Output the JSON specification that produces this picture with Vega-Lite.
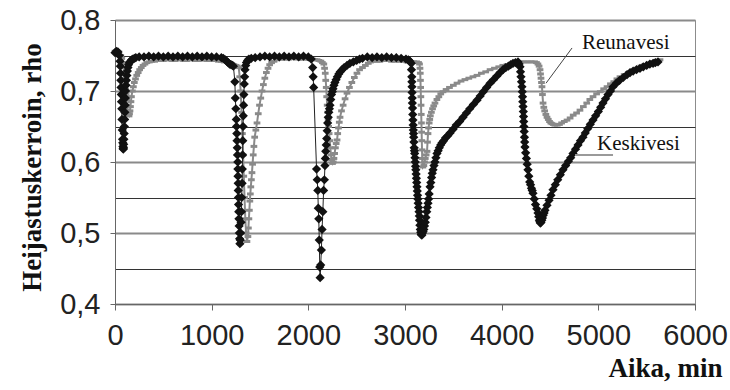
{
  "$schema": "https://vega.github.io/schema/vega-lite/v6.json",
  "width": 580,
  "height": 284,
  "autosize": {"type": "none"},
  "padding": {"left": 115, "top": 20, "right": 35, "bottom": 86},
  "background": "white",
  "config": {"view": {"stroke": "#8c8c8c", "strokeWidth": 1}, "font": "Liberation Sans"},
  "datasets": {
    "reunavesi": [
      {"t": 0, "rho": 0.756}, {"t": 20, "rho": 0.757}, {"t": 40, "rho": 0.755}, {"t": 60, "rho": 0.75}, {"t": 70, "rho": 0.746},
      {"t": 80, "rho": 0.74}, {"t": 88, "rho": 0.733}, {"t": 95, "rho": 0.725}, {"t": 100, "rho": 0.718}, {"t": 105, "rho": 0.71},
      {"t": 110, "rho": 0.702}, {"t": 115, "rho": 0.695}, {"t": 120, "rho": 0.688}, {"t": 125, "rho": 0.68}, {"t": 130, "rho": 0.673},
      {"t": 135, "rho": 0.668}, {"t": 140, "rho": 0.666}, {"t": 145, "rho": 0.665}, {"t": 150, "rho": 0.668}, {"t": 155, "rho": 0.672},
      {"t": 160, "rho": 0.678}, {"t": 165, "rho": 0.685}, {"t": 170, "rho": 0.692}, {"t": 180, "rho": 0.7}, {"t": 190, "rho": 0.706},
      {"t": 200, "rho": 0.712}, {"t": 212, "rho": 0.717}, {"t": 225, "rho": 0.722}, {"t": 240, "rho": 0.726}, {"t": 255, "rho": 0.73},
      {"t": 272, "rho": 0.733}, {"t": 290, "rho": 0.736}, {"t": 310, "rho": 0.738}, {"t": 330, "rho": 0.74}, {"t": 355, "rho": 0.741},
      {"t": 380, "rho": 0.742}, {"t": 410, "rho": 0.742}, {"t": 440, "rho": 0.743}, {"t": 470, "rho": 0.743}, {"t": 500, "rho": 0.743},
      {"t": 530, "rho": 0.744}, {"t": 560, "rho": 0.744}, {"t": 590, "rho": 0.743}, {"t": 620, "rho": 0.743}, {"t": 650, "rho": 0.744},
      {"t": 680, "rho": 0.744}, {"t": 710, "rho": 0.743}, {"t": 740, "rho": 0.743}, {"t": 770, "rho": 0.744}, {"t": 800, "rho": 0.744},
      {"t": 830, "rho": 0.743}, {"t": 860, "rho": 0.743}, {"t": 890, "rho": 0.744}, {"t": 920, "rho": 0.744}, {"t": 950, "rho": 0.743},
      {"t": 980, "rho": 0.743}, {"t": 1010, "rho": 0.743}, {"t": 1040, "rho": 0.743}, {"t": 1070, "rho": 0.742}, {"t": 1100, "rho": 0.742},
      {"t": 1130, "rho": 0.741}, {"t": 1160, "rho": 0.74}, {"t": 1185, "rho": 0.739}, {"t": 1210, "rho": 0.738}, {"t": 1230, "rho": 0.737},
      {"t": 1250, "rho": 0.736}, {"t": 1265, "rho": 0.735}, {"t": 1280, "rho": 0.733}, {"t": 1290, "rho": 0.72}, {"t": 1300, "rho": 0.7},
      {"t": 1310, "rho": 0.67}, {"t": 1318, "rho": 0.64}, {"t": 1325, "rho": 0.61}, {"t": 1332, "rho": 0.58}, {"t": 1340, "rho": 0.55},
      {"t": 1348, "rho": 0.52}, {"t": 1356, "rho": 0.5}, {"t": 1365, "rho": 0.488}, {"t": 1375, "rho": 0.495}, {"t": 1380, "rho": 0.507},
      {"t": 1385, "rho": 0.52}, {"t": 1390, "rho": 0.532}, {"t": 1395, "rho": 0.545}, {"t": 1400, "rho": 0.555}, {"t": 1405, "rho": 0.565},
      {"t": 1411, "rho": 0.575}, {"t": 1417, "rho": 0.585}, {"t": 1423, "rho": 0.597}, {"t": 1430, "rho": 0.61}, {"t": 1437, "rho": 0.622},
      {"t": 1445, "rho": 0.635}, {"t": 1457, "rho": 0.645}, {"t": 1469, "rho": 0.655}, {"t": 1482, "rho": 0.668}, {"t": 1495, "rho": 0.68},
      {"t": 1508, "rho": 0.69}, {"t": 1521, "rho": 0.7}, {"t": 1535, "rho": 0.709}, {"t": 1550, "rho": 0.718}, {"t": 1566, "rho": 0.726},
      {"t": 1583, "rho": 0.732}, {"t": 1600, "rho": 0.737}, {"t": 1620, "rho": 0.74}, {"t": 1645, "rho": 0.742}, {"t": 1670, "rho": 0.744},
      {"t": 1700, "rho": 0.745}, {"t": 1730, "rho": 0.745}, {"t": 1765, "rho": 0.745}, {"t": 1800, "rho": 0.745}, {"t": 1830, "rho": 0.746},
      {"t": 1860, "rho": 0.746}, {"t": 1890, "rho": 0.745}, {"t": 1920, "rho": 0.745}, {"t": 1950, "rho": 0.745}, {"t": 1980, "rho": 0.745},
      {"t": 2010, "rho": 0.745}, {"t": 2040, "rho": 0.745}, {"t": 2065, "rho": 0.744}, {"t": 2090, "rho": 0.744}, {"t": 2110, "rho": 0.743},
      {"t": 2130, "rho": 0.742}, {"t": 2145, "rho": 0.74}, {"t": 2160, "rho": 0.738}, {"t": 2168, "rho": 0.732}, {"t": 2175, "rho": 0.725},
      {"t": 2180, "rho": 0.715}, {"t": 2185, "rho": 0.705}, {"t": 2190, "rho": 0.692}, {"t": 2195, "rho": 0.68}, {"t": 2200, "rho": 0.67},
      {"t": 2205, "rho": 0.66}, {"t": 2210, "rho": 0.65}, {"t": 2215, "rho": 0.64}, {"t": 2222, "rho": 0.63}, {"t": 2228, "rho": 0.62},
      {"t": 2234, "rho": 0.61}, {"t": 2240, "rho": 0.603}, {"t": 2250, "rho": 0.598}, {"t": 2258, "rho": 0.6}, {"t": 2265, "rho": 0.605},
      {"t": 2272, "rho": 0.612}, {"t": 2280, "rho": 0.62}, {"t": 2288, "rho": 0.626}, {"t": 2297, "rho": 0.631}, {"t": 2304, "rho": 0.64},
      {"t": 2312, "rho": 0.648}, {"t": 2320, "rho": 0.656}, {"t": 2328, "rho": 0.663}, {"t": 2343, "rho": 0.672}, {"t": 2360, "rho": 0.68},
      {"t": 2380, "rho": 0.689}, {"t": 2400, "rho": 0.697}, {"t": 2425, "rho": 0.705}, {"t": 2450, "rho": 0.712}, {"t": 2476, "rho": 0.719},
      {"t": 2503, "rho": 0.725}, {"t": 2530, "rho": 0.73}, {"t": 2560, "rho": 0.733}, {"t": 2590, "rho": 0.736}, {"t": 2620, "rho": 0.739},
      {"t": 2645, "rho": 0.741}, {"t": 2670, "rho": 0.742}, {"t": 2710, "rho": 0.742}, {"t": 2740, "rho": 0.742}, {"t": 2780, "rho": 0.743},
      {"t": 2820, "rho": 0.743}, {"t": 2860, "rho": 0.742}, {"t": 2900, "rho": 0.742}, {"t": 2940, "rho": 0.742}, {"t": 2980, "rho": 0.742},
      {"t": 3020, "rho": 0.741}, {"t": 3060, "rho": 0.741}, {"t": 3090, "rho": 0.741}, {"t": 3120, "rho": 0.741}, {"t": 3140, "rho": 0.74},
      {"t": 3150, "rho": 0.738}, {"t": 3155, "rho": 0.732}, {"t": 3158, "rho": 0.725}, {"t": 3160, "rho": 0.715}, {"t": 3162, "rho": 0.705},
      {"t": 3164, "rho": 0.692}, {"t": 3166, "rho": 0.68}, {"t": 3168, "rho": 0.667}, {"t": 3170, "rho": 0.655}, {"t": 3172, "rho": 0.642},
      {"t": 3174, "rho": 0.63}, {"t": 3176, "rho": 0.617}, {"t": 3178, "rho": 0.605}, {"t": 3185, "rho": 0.593}, {"t": 3195, "rho": 0.595},
      {"t": 3202, "rho": 0.6}, {"t": 3210, "rho": 0.605}, {"t": 3219, "rho": 0.61}, {"t": 3228, "rho": 0.615}, {"t": 3233, "rho": 0.628},
      {"t": 3238, "rho": 0.64}, {"t": 3244, "rho": 0.648}, {"t": 3250, "rho": 0.655}, {"t": 3256, "rho": 0.66}, {"t": 3262, "rho": 0.665},
      {"t": 3273, "rho": 0.67}, {"t": 3285, "rho": 0.675}, {"t": 3297, "rho": 0.679}, {"t": 3310, "rho": 0.683}, {"t": 3330, "rho": 0.688},
      {"t": 3350, "rho": 0.692}, {"t": 3370, "rho": 0.696}, {"t": 3393, "rho": 0.699}, {"t": 3425, "rho": 0.702}, {"t": 3460, "rho": 0.705},
      {"t": 3500, "rho": 0.708}, {"t": 3538, "rho": 0.711}, {"t": 3580, "rho": 0.714}, {"t": 3620, "rho": 0.716}, {"t": 3660, "rho": 0.718},
      {"t": 3703, "rho": 0.72}, {"t": 3745, "rho": 0.722}, {"t": 3790, "rho": 0.725}, {"t": 3835, "rho": 0.727}, {"t": 3880, "rho": 0.73},
      {"t": 3925, "rho": 0.732}, {"t": 3970, "rho": 0.734}, {"t": 4012, "rho": 0.736}, {"t": 4055, "rho": 0.737}, {"t": 4092, "rho": 0.738},
      {"t": 4130, "rho": 0.739}, {"t": 4165, "rho": 0.74}, {"t": 4200, "rho": 0.741}, {"t": 4235, "rho": 0.741}, {"t": 4270, "rho": 0.741},
      {"t": 4305, "rho": 0.741}, {"t": 4340, "rho": 0.741}, {"t": 4360, "rho": 0.74}, {"t": 4375, "rho": 0.738}, {"t": 4387, "rho": 0.735},
      {"t": 4397, "rho": 0.73}, {"t": 4402, "rho": 0.724}, {"t": 4407, "rho": 0.718}, {"t": 4412, "rho": 0.712}, {"t": 4417, "rho": 0.706},
      {"t": 4422, "rho": 0.695}, {"t": 4428, "rho": 0.683}, {"t": 4436, "rho": 0.677}, {"t": 4445, "rho": 0.672}, {"t": 4457, "rho": 0.667},
      {"t": 4469, "rho": 0.663}, {"t": 4482, "rho": 0.66}, {"t": 4495, "rho": 0.657}, {"t": 4508, "rho": 0.655}, {"t": 4521, "rho": 0.654},
      {"t": 4535, "rho": 0.653}, {"t": 4550, "rho": 0.652}, {"t": 4575, "rho": 0.652}, {"t": 4598, "rho": 0.653}, {"t": 4620, "rho": 0.655},
      {"t": 4648, "rho": 0.657}, {"t": 4676, "rho": 0.659}, {"t": 4708, "rho": 0.662}, {"t": 4740, "rho": 0.666}, {"t": 4775, "rho": 0.669},
      {"t": 4810, "rho": 0.673}, {"t": 4845, "rho": 0.678}, {"t": 4880, "rho": 0.683}, {"t": 4912, "rho": 0.688}, {"t": 4945, "rho": 0.692},
      {"t": 4982, "rho": 0.696}, {"t": 5020, "rho": 0.699}, {"t": 5055, "rho": 0.703}, {"t": 5090, "rho": 0.706}, {"t": 5125, "rho": 0.71},
      {"t": 5160, "rho": 0.713}, {"t": 5192, "rho": 0.717}, {"t": 5224, "rho": 0.72}, {"t": 5267, "rho": 0.723}, {"t": 5310, "rho": 0.726},
      {"t": 5355, "rho": 0.729}, {"t": 5400, "rho": 0.732}, {"t": 5440, "rho": 0.735}, {"t": 5480, "rho": 0.737}, {"t": 5523, "rho": 0.739},
      {"t": 5566, "rho": 0.741}, {"t": 5602, "rho": 0.743}, {"t": 5638, "rho": 0.744}
    ],
    "keskivesi": [
      {"t": 0, "rho": 0.754}, {"t": 15, "rho": 0.756}, {"t": 30, "rho": 0.755}, {"t": 45, "rho": 0.75}, {"t": 52, "rho": 0.742},
      {"t": 55, "rho": 0.735}, {"t": 57, "rho": 0.725}, {"t": 60, "rho": 0.715}, {"t": 62, "rho": 0.705}, {"t": 65, "rho": 0.695},
      {"t": 67, "rho": 0.685}, {"t": 70, "rho": 0.675}, {"t": 72, "rho": 0.66}, {"t": 75, "rho": 0.645}, {"t": 78, "rho": 0.632},
      {"t": 80, "rho": 0.627}, {"t": 82, "rho": 0.622}, {"t": 84, "rho": 0.619}, {"t": 86, "rho": 0.618}, {"t": 88, "rho": 0.62},
      {"t": 90, "rho": 0.625}, {"t": 92, "rho": 0.632}, {"t": 95, "rho": 0.64}, {"t": 97, "rho": 0.65}, {"t": 100, "rho": 0.66},
      {"t": 102, "rho": 0.67}, {"t": 105, "rho": 0.68}, {"t": 107, "rho": 0.69}, {"t": 110, "rho": 0.7}, {"t": 114, "rho": 0.708},
      {"t": 118, "rho": 0.715}, {"t": 123, "rho": 0.722}, {"t": 128, "rho": 0.728}, {"t": 134, "rho": 0.733}, {"t": 140, "rho": 0.737},
      {"t": 150, "rho": 0.74}, {"t": 160, "rho": 0.742}, {"t": 172, "rho": 0.744}, {"t": 185, "rho": 0.745}, {"t": 200, "rho": 0.746},
      {"t": 215, "rho": 0.747}, {"t": 250, "rho": 0.748}, {"t": 300, "rho": 0.748}, {"t": 350, "rho": 0.749}, {"t": 400, "rho": 0.748},
      {"t": 450, "rho": 0.749}, {"t": 500, "rho": 0.748}, {"t": 550, "rho": 0.749}, {"t": 600, "rho": 0.748}, {"t": 650, "rho": 0.749},
      {"t": 700, "rho": 0.748}, {"t": 750, "rho": 0.749}, {"t": 800, "rho": 0.748}, {"t": 850, "rho": 0.749}, {"t": 900, "rho": 0.748},
      {"t": 950, "rho": 0.749}, {"t": 1000, "rho": 0.748}, {"t": 1050, "rho": 0.748}, {"t": 1100, "rho": 0.747}, {"t": 1120, "rho": 0.746},
      {"t": 1140, "rho": 0.744}, {"t": 1155, "rho": 0.742}, {"t": 1170, "rho": 0.74}, {"t": 1185, "rho": 0.738}, {"t": 1200, "rho": 0.737},
      {"t": 1215, "rho": 0.736}, {"t": 1225, "rho": 0.735}, {"t": 1240, "rho": 0.713}, {"t": 1245, "rho": 0.69}, {"t": 1250, "rho": 0.675},
      {"t": 1255, "rho": 0.66}, {"t": 1257, "rho": 0.65}, {"t": 1260, "rho": 0.64}, {"t": 1262, "rho": 0.63}, {"t": 1265, "rho": 0.62},
      {"t": 1267, "rho": 0.61}, {"t": 1270, "rho": 0.6}, {"t": 1271, "rho": 0.59}, {"t": 1272, "rho": 0.58}, {"t": 1274, "rho": 0.57},
      {"t": 1275, "rho": 0.56}, {"t": 1277, "rho": 0.55}, {"t": 1278, "rho": 0.54}, {"t": 1280, "rho": 0.53}, {"t": 1282, "rho": 0.52},
      {"t": 1284, "rho": 0.51}, {"t": 1286, "rho": 0.5}, {"t": 1289, "rho": 0.492}, {"t": 1292, "rho": 0.485}, {"t": 1296, "rho": 0.49},
      {"t": 1300, "rho": 0.5}, {"t": 1304, "rho": 0.515}, {"t": 1308, "rho": 0.53}, {"t": 1311, "rho": 0.55}, {"t": 1315, "rho": 0.57},
      {"t": 1317, "rho": 0.59}, {"t": 1320, "rho": 0.61}, {"t": 1322, "rho": 0.63}, {"t": 1325, "rho": 0.65}, {"t": 1327, "rho": 0.665},
      {"t": 1330, "rho": 0.68}, {"t": 1333, "rho": 0.695}, {"t": 1337, "rho": 0.71}, {"t": 1341, "rho": 0.72}, {"t": 1345, "rho": 0.73},
      {"t": 1352, "rho": 0.736}, {"t": 1360, "rho": 0.74}, {"t": 1372, "rho": 0.743}, {"t": 1385, "rho": 0.745}, {"t": 1410, "rho": 0.746},
      {"t": 1450, "rho": 0.747}, {"t": 1500, "rho": 0.748}, {"t": 1550, "rho": 0.749}, {"t": 1600, "rho": 0.748}, {"t": 1650, "rho": 0.749},
      {"t": 1700, "rho": 0.748}, {"t": 1750, "rho": 0.749}, {"t": 1800, "rho": 0.748}, {"t": 1850, "rho": 0.749}, {"t": 1900, "rho": 0.748},
      {"t": 1950, "rho": 0.749}, {"t": 2000, "rho": 0.748}, {"t": 2030, "rho": 0.745}, {"t": 2045, "rho": 0.733}, {"t": 2050, "rho": 0.72},
      {"t": 2055, "rho": 0.705}, {"t": 2085, "rho": 0.59}, {"t": 2092, "rho": 0.575}, {"t": 2098, "rho": 0.56}, {"t": 2103, "rho": 0.535},
      {"t": 2108, "rho": 0.52}, {"t": 2113, "rho": 0.49}, {"t": 2118, "rho": 0.452}, {"t": 2122, "rho": 0.437}, {"t": 2128, "rho": 0.455},
      {"t": 2135, "rho": 0.476}, {"t": 2142, "rho": 0.505}, {"t": 2150, "rho": 0.53}, {"t": 2158, "rho": 0.56}, {"t": 2166, "rho": 0.575},
      {"t": 2172, "rho": 0.595}, {"t": 2176, "rho": 0.605}, {"t": 2180, "rho": 0.615}, {"t": 2185, "rho": 0.624}, {"t": 2190, "rho": 0.633},
      {"t": 2195, "rho": 0.644}, {"t": 2200, "rho": 0.655}, {"t": 2206, "rho": 0.663}, {"t": 2212, "rho": 0.67}, {"t": 2218, "rho": 0.675},
      {"t": 2224, "rho": 0.68}, {"t": 2232, "rho": 0.688}, {"t": 2240, "rho": 0.695}, {"t": 2248, "rho": 0.699}, {"t": 2255, "rho": 0.703},
      {"t": 2265, "rho": 0.708}, {"t": 2275, "rho": 0.712}, {"t": 2287, "rho": 0.716}, {"t": 2300, "rho": 0.72}, {"t": 2315, "rho": 0.724},
      {"t": 2330, "rho": 0.727}, {"t": 2350, "rho": 0.73}, {"t": 2370, "rho": 0.733}, {"t": 2400, "rho": 0.736}, {"t": 2430, "rho": 0.739},
      {"t": 2465, "rho": 0.741}, {"t": 2500, "rho": 0.743}, {"t": 2530, "rho": 0.745}, {"t": 2560, "rho": 0.746}, {"t": 2610, "rho": 0.748},
      {"t": 2660, "rho": 0.747}, {"t": 2710, "rho": 0.748}, {"t": 2760, "rho": 0.747}, {"t": 2810, "rho": 0.748}, {"t": 2860, "rho": 0.747},
      {"t": 2910, "rho": 0.747}, {"t": 2960, "rho": 0.746}, {"t": 3010, "rho": 0.745}, {"t": 3035, "rho": 0.744}, {"t": 3050, "rho": 0.742},
      {"t": 3065, "rho": 0.739}, {"t": 3067, "rho": 0.73}, {"t": 3070, "rho": 0.72}, {"t": 3071, "rho": 0.713}, {"t": 3072, "rho": 0.706},
      {"t": 3073, "rho": 0.698}, {"t": 3075, "rho": 0.69}, {"t": 3076, "rho": 0.683}, {"t": 3078, "rho": 0.676}, {"t": 3080, "rho": 0.667},
      {"t": 3082, "rho": 0.659}, {"t": 3084, "rho": 0.652}, {"t": 3086, "rho": 0.645}, {"t": 3088, "rho": 0.64}, {"t": 3090, "rho": 0.635},
      {"t": 3092, "rho": 0.628}, {"t": 3095, "rho": 0.62}, {"t": 3098, "rho": 0.616}, {"t": 3100, "rho": 0.612}, {"t": 3103, "rho": 0.606},
      {"t": 3106, "rho": 0.6}, {"t": 3109, "rho": 0.594}, {"t": 3112, "rho": 0.589}, {"t": 3115, "rho": 0.583}, {"t": 3118, "rho": 0.577},
      {"t": 3121, "rho": 0.571}, {"t": 3124, "rho": 0.565}, {"t": 3127, "rho": 0.559}, {"t": 3130, "rho": 0.553}, {"t": 3133, "rho": 0.548},
      {"t": 3136, "rho": 0.542}, {"t": 3140, "rho": 0.536}, {"t": 3145, "rho": 0.53}, {"t": 3148, "rho": 0.524}, {"t": 3150, "rho": 0.518},
      {"t": 3154, "rho": 0.511}, {"t": 3158, "rho": 0.505}, {"t": 3163, "rho": 0.501}, {"t": 3168, "rho": 0.498}, {"t": 3174, "rho": 0.497},
      {"t": 3180, "rho": 0.5}, {"t": 3187, "rho": 0.502}, {"t": 3195, "rho": 0.505}, {"t": 3202, "rho": 0.51}, {"t": 3210, "rho": 0.515},
      {"t": 3217, "rho": 0.522}, {"t": 3225, "rho": 0.53}, {"t": 3231, "rho": 0.536}, {"t": 3238, "rho": 0.542}, {"t": 3244, "rho": 0.548},
      {"t": 3250, "rho": 0.555}, {"t": 3259, "rho": 0.565}, {"t": 3267, "rho": 0.571}, {"t": 3275, "rho": 0.578}, {"t": 3282, "rho": 0.584},
      {"t": 3290, "rho": 0.589}, {"t": 3300, "rho": 0.595}, {"t": 3310, "rho": 0.6}, {"t": 3320, "rho": 0.606}, {"t": 3331, "rho": 0.612},
      {"t": 3343, "rho": 0.616}, {"t": 3355, "rho": 0.62}, {"t": 3369, "rho": 0.624}, {"t": 3383, "rho": 0.627}, {"t": 3400, "rho": 0.63},
      {"t": 3420, "rho": 0.634}, {"t": 3443, "rho": 0.637}, {"t": 3466, "rho": 0.641}, {"t": 3497, "rho": 0.646}, {"t": 3530, "rho": 0.652},
      {"t": 3565, "rho": 0.657}, {"t": 3600, "rho": 0.663}, {"t": 3635, "rho": 0.669}, {"t": 3670, "rho": 0.675}, {"t": 3707, "rho": 0.681},
      {"t": 3745, "rho": 0.687}, {"t": 3778, "rho": 0.693}, {"t": 3810, "rho": 0.699}, {"t": 3845, "rho": 0.705}, {"t": 3880, "rho": 0.711},
      {"t": 3915, "rho": 0.716}, {"t": 3950, "rho": 0.721}, {"t": 3983, "rho": 0.726}, {"t": 4014, "rho": 0.73}, {"t": 4042, "rho": 0.733},
      {"t": 4070, "rho": 0.735}, {"t": 4093, "rho": 0.737}, {"t": 4117, "rho": 0.739}, {"t": 4143, "rho": 0.74}, {"t": 4169, "rho": 0.741},
      {"t": 4180, "rho": 0.738}, {"t": 4190, "rho": 0.734}, {"t": 4195, "rho": 0.727}, {"t": 4200, "rho": 0.72}, {"t": 4205, "rho": 0.713},
      {"t": 4210, "rho": 0.706}, {"t": 4213, "rho": 0.699}, {"t": 4216, "rho": 0.692}, {"t": 4218, "rho": 0.685}, {"t": 4221, "rho": 0.678},
      {"t": 4224, "rho": 0.671}, {"t": 4226, "rho": 0.664}, {"t": 4228, "rho": 0.657}, {"t": 4230, "rho": 0.65}, {"t": 4233, "rho": 0.643},
      {"t": 4236, "rho": 0.635}, {"t": 4238, "rho": 0.628}, {"t": 4241, "rho": 0.621}, {"t": 4248, "rho": 0.613}, {"t": 4256, "rho": 0.605},
      {"t": 4264, "rho": 0.597}, {"t": 4272, "rho": 0.589}, {"t": 4281, "rho": 0.58}, {"t": 4290, "rho": 0.572}, {"t": 4299, "rho": 0.568},
      {"t": 4308, "rho": 0.563}, {"t": 4316, "rho": 0.56}, {"t": 4324, "rho": 0.556}, {"t": 4337, "rho": 0.548}, {"t": 4350, "rho": 0.54},
      {"t": 4363, "rho": 0.534}, {"t": 4376, "rho": 0.528}, {"t": 4383, "rho": 0.523}, {"t": 4390, "rho": 0.518}, {"t": 4395, "rho": 0.516},
      {"t": 4400, "rho": 0.514}, {"t": 4407, "rho": 0.515}, {"t": 4415, "rho": 0.518}, {"t": 4422, "rho": 0.521}, {"t": 4430, "rho": 0.525},
      {"t": 4439, "rho": 0.528}, {"t": 4448, "rho": 0.532}, {"t": 4469, "rho": 0.539}, {"t": 4490, "rho": 0.546}, {"t": 4510, "rho": 0.553},
      {"t": 4531, "rho": 0.561}, {"t": 4555, "rho": 0.568}, {"t": 4580, "rho": 0.575}, {"t": 4607, "rho": 0.582}, {"t": 4634, "rho": 0.589},
      {"t": 4662, "rho": 0.595}, {"t": 4690, "rho": 0.601}, {"t": 4714, "rho": 0.606}, {"t": 4738, "rho": 0.612}, {"t": 4764, "rho": 0.618},
      {"t": 4790, "rho": 0.624}, {"t": 4815, "rho": 0.63}, {"t": 4841, "rho": 0.635}, {"t": 4865, "rho": 0.641}, {"t": 4890, "rho": 0.647},
      {"t": 4917, "rho": 0.653}, {"t": 4945, "rho": 0.659}, {"t": 4972, "rho": 0.665}, {"t": 5000, "rho": 0.671}, {"t": 5024, "rho": 0.677},
      {"t": 5048, "rho": 0.683}, {"t": 5074, "rho": 0.689}, {"t": 5100, "rho": 0.695}, {"t": 5126, "rho": 0.7}, {"t": 5152, "rho": 0.706},
      {"t": 5186, "rho": 0.711}, {"t": 5220, "rho": 0.715}, {"t": 5258, "rho": 0.719}, {"t": 5297, "rho": 0.723}, {"t": 5328, "rho": 0.726},
      {"t": 5360, "rho": 0.728}, {"t": 5395, "rho": 0.73}, {"t": 5431, "rho": 0.732}, {"t": 5465, "rho": 0.734}, {"t": 5500, "rho": 0.736},
      {"t": 5533, "rho": 0.738}, {"t": 5566, "rho": 0.739}, {"t": 5590, "rho": 0.74}, {"t": 5617, "rho": 0.741}
    ],
    "notes": [
      {"t": 4831, "rho": 0.759, "label": "Reunavesi", "t2": 4728, "rho2": 0.7606, "t3": 4459, "rho3": 0.711},
      {"t": 4986, "rho": 0.617, "label": "Keskivesi", "t2": 4759, "rho2": 0.61, "t3": 5152, "rho3": 0.61}
    ]
  },
  "encoding": {
    "x": {
      "field": "t",
      "type": "quantitative",
      "scale": {"domain": [0, 6000], "nice": false, "zero": false},
      "axis": {
        "values": [0, 1000, 2000, 3000, 4000, 5000, 6000],
        "format": "d",
        "grid": false,
        "domainColor": "#666",
        "tickColor": "#666",
        "tickSize": 6,
        "labelFont": "Liberation Sans",
        "labelFontSize": 29,
        "labelColor": "#222",
        "labelPadding": 11,
        "labelFlush": false,
        "labelOverlap": false,
        "title": "Aika, min",
        "titleFont": "Liberation Serif",
        "titleFontSize": 27,
        "titleFontWeight": "bold",
        "titleColor": "#111",
        "titleX": 607,
        "titleY": 72,
        "titleAlign": "right",
        "titleBaseline": "alphabetic"
      }
    },
    "y": {
      "field": "rho",
      "type": "quantitative",
      "scale": {"domain": [0.4, 0.8], "nice": false, "zero": false},
      "axis": {
        "values": [0.4, 0.45, 0.5, 0.55, 0.6, 0.65, 0.7, 0.75, 0.8],
        "grid": true,
        "gridColor": {"condition": {"test": "round(datum.value * 100) % 10 == 0", "value": "#8a8a8a"}, "value": "#333"},
        "gridWidth": {"condition": {"test": "round(datum.value * 100) % 10 == 0", "value": 1.8}, "value": 1},
        "domainColor": "#666",
        "tickColor": "#666",
        "tickSize": 5,
        "tickOpacity": {"condition": {"test": "round(datum.value * 100) % 10 != 0", "value": 0}, "value": 1},
        "labelExpr": "round(datum.value * 100) % 10 == 0 ? replace(format(datum.value, '.1f'), '.', ',') : ''",
        "labelFont": "Liberation Sans",
        "labelFontSize": 29,
        "labelColor": "#222",
        "labelPadding": 10,
        "labelOverlap": false,
        "title": "Heijastuskerroin, rho",
        "titleFont": "Liberation Serif",
        "titleFontSize": 27,
        "titleFontWeight": "bold",
        "titleColor": "#111",
        "titleX": -83,
        "titleY": 147,
        "titleAngle": -90,
        "titleAlign": "center",
        "titleBaseline": "middle"
      }
    }
  },
  "layer": [
    {
      "data": {"name": "reunavesi"},
      "mark": {"type": "line", "color": "#8a8a8a", "strokeWidth": 2},
      "encoding": {}
    },
    {
      "data": {"name": "reunavesi"},
      "mark": {"type": "point", "shape": "stroke", "filled": false, "color": "#8a8a8a", "strokeWidth": 3, "size": 45, "opacity": 1}
    },
    {
      "data": {"name": "keskivesi"},
      "mark": {"type": "line", "color": "#222", "strokeWidth": 1},
      "encoding": {}
    },
    {
      "data": {"name": "keskivesi"},
      "mark": {"type": "point", "shape": "diamond", "filled": true, "color": "#111", "size": 85, "opacity": 1}
    },
    {
      "data": {"name": "notes"},
      "transform": [{"filter": "datum.label == 'Reunavesi'"}],
      "mark": {"type": "rule", "color": "#444", "strokeWidth": 1},
      "encoding": {
        "x": {"field": "t2", "type": "quantitative"},
        "y": {"field": "rho2", "type": "quantitative"},
        "x2": {"field": "t3"},
        "y2": {"field": "rho3"}
      }
    },
    {
      "data": {"name": "notes"},
      "transform": [{"filter": "datum.label == 'Keskivesi'"}],
      "mark": {"type": "rule", "color": "#9a9a9a", "strokeWidth": 2},
      "encoding": {
        "x": {"field": "t2", "type": "quantitative"},
        "y": {"field": "rho2", "type": "quantitative"},
        "x2": {"field": "t3"},
        "y2": {"field": "rho3"}
      }
    },
    {
      "data": {"name": "notes"},
      "mark": {"type": "text", "align": "left", "baseline": "alphabetic", "font": "Liberation Serif", "fontSize": 21, "color": "#111"},
      "encoding": {"text": {"field": "label"}}
    }
  ]
}
